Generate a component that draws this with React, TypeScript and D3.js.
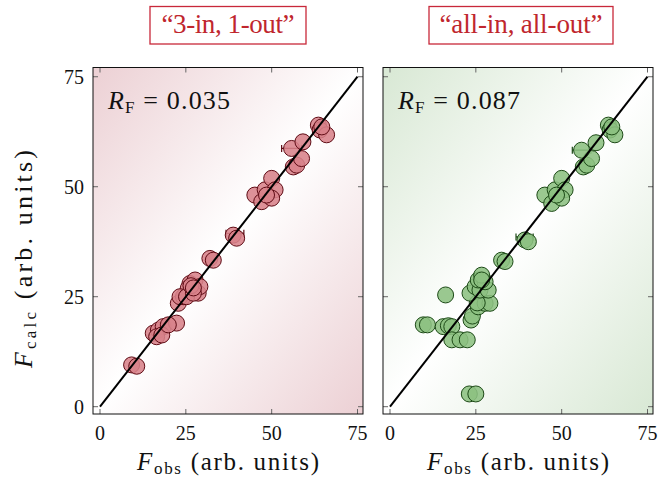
import React from "react";
import * as d3 from "d3";

// ---------- data ----------
const ticks = [0, 25, 50, 75];
const panelTitles = ["\u201c3-in, 1-out\u201d", "\u201call-in, all-out\u201d"];
const rfValues = ["0.035", "0.087"];

const leftObs = [9.2, 10.7, 15.5, 17, 18.4, 22.3, 16.5, 18, 19.9, 22.8, 24.3, 26.2, 27.7, 25.7, 28.6, 29.1, 23.3, 25.2, 27.2, 26.5, 27.2, 32, 33, 38.8, 39.8, 45.1, 47.1, 48.1, 50, 51, 50, 48.5, 56.3, 57.3, 58.7, 55.8, 59.1, 63.6, 64.1, 66, 64.6];
const leftCalc = [9.5, 9.2, 16.7, 17.4, 18.2, 19, 15.9, 16.3, 18.6, 23.5, 25, 28, 28.8, 26.9, 25.8, 27.3, 25, 25, 25.8, 27.5, 27, 33.7, 33.3, 39, 38.3, 48.1, 46.6, 49.3, 51.9, 49.3, 47.4, 48.1, 54.5, 54.9, 56.4, 58.7, 60.2, 64, 62.9, 61.8, 63.6];

const rightObs = [23.1, 25, 9.7, 10.9, 16.2, 15.5, 17, 18, 18, 20.4, 22.5, 23.6, 24, 25.7, 27.7, 29.1, 25.4, 23.3, 24.8, 26.2, 28.6, 25.7, 27.7, 26.7, 26.7, 32.5, 33.5, 39.3, 40.3, 45.1, 47.1, 48.1, 50, 51, 50, 48.5, 56.3, 57.3, 58.7, 55.8, 60, 63.6, 64.1, 65.5, 64.6];
const rightCalc = [2.9, 2.9, 18.6, 18.6, 25.4, 18.2, 18.4, 18.2, 15.2, 15.2, 15.2, 19.7, 20.6, 22.7, 23.5, 23.5, 23.6, 25.8, 27.3, 26.5, 26.5, 28.8, 28.4, 29.9, 28.8, 33.3, 33, 37.9, 37.5, 48.1, 46.2, 49.3, 51.9, 49.3, 47.4, 48.1, 54.5, 54.9, 56.4, 58.3, 60, 64, 62.9, 61.8, 63.6];

// visible error bars (obs, calc, sigma)
const leftErrObs = [55.8, 39.3];
const leftErrCalc = [58.7, 39.4];
const leftErrSigma = [2.9, 2.6];
const rightErrObs = [55.8, 39.2];
const rightErrCalc = [58.3, 38.6];
const rightErrSigma = [2.7, 2.5];

const xDomain = [-2.04, 76.6];
const yDomain = [-1.66, 77.1];

const FONT = "Liberation Serif";

type PanelProps = {
  x0: number;
  obs: number[];
  calc: number[];
  eObs: number[];
  eCalc: number[];
  eSig: number[];
  bg: string;
  fill: string;
  stroke: string;
  rf: string;
  id: string;
  title: string;
  titleX0: number;
  titleX1: number;
  titleLen: number;
};

const TOP = 67.5;
const BOTTOM = 414;
const WIDTH = 270;

function Panel(p: PanelProps) {
  const x = d3.scaleLinear().domain(xDomain).range([p.x0, p.x0 + WIDTH]);
  const y = d3.scaleLinear().domain(yDomain).range([BOTTOM, TOP]);
  const line = d3.line<number>().x((d) => x(d)).y((d) => y(d));
  const tl = 5;
  return (
    <g>
      <defs>
        <linearGradient id={p.id} x1="0" y1="0" x2="1" y2="1">
          <stop offset="0" stopColor={p.bg} />
          <stop offset="0.5" stopColor="#ffffff" />
          <stop offset="1" stopColor={p.bg} />
        </linearGradient>
        <clipPath id={p.id + "c"}>
          <rect x={p.x0} y={TOP} width={WIDTH} height={BOTTOM - TOP} />
        </clipPath>
      </defs>
      <rect x={p.x0} y={TOP} width={WIDTH} height={BOTTOM - TOP} fill={`url(#${p.id})`} />
      {ticks.map((t) => (
        <g key={"t" + t} stroke="#666" strokeWidth={1}>
          <line x1={x(t)} x2={x(t)} y1={BOTTOM} y2={BOTTOM - tl} />
          <line x1={x(t)} x2={x(t)} y1={TOP} y2={TOP + tl} />
          <line x1={p.x0} x2={p.x0 + tl} y1={y(t)} y2={y(t)} />
          <line x1={p.x0 + WIDTH} x2={p.x0 + WIDTH - tl} y1={y(t)} y2={y(t)} />
        </g>
      ))}
      <g clipPath={`url(#${p.id}c)`}>
        {p.eObs.map((o, i) => (
          <g key={"e" + i} stroke={p.stroke} strokeWidth={1.2}>
            <line x1={x(o - p.eSig[i])} x2={x(o + p.eSig[i])} y1={y(p.eCalc[i])} y2={y(p.eCalc[i])} />
            <line x1={x(o - p.eSig[i])} x2={x(o - p.eSig[i])} y1={y(p.eCalc[i]) - 3.5} y2={y(p.eCalc[i]) + 3.5} />
            <line x1={x(o + p.eSig[i])} x2={x(o + p.eSig[i])} y1={y(p.eCalc[i]) - 3.5} y2={y(p.eCalc[i]) + 3.5} />
          </g>
        ))}
        {p.obs.map((o, i) => (
          <circle key={"p" + i} cx={x(o)} cy={y(p.calc[i])} r={8} fill={p.fill} fillOpacity={0.88} stroke={p.stroke} strokeWidth={1} />
        ))}
        <path d={line([0, 75]) || ""} stroke="#000" strokeWidth={2} fill="none" />
      </g>
      <rect x={p.x0} y={TOP} width={WIDTH} height={BOTTOM - TOP} fill="none" stroke="#111" strokeWidth={1} />
      <text x={p.x0 + 15} y={109} style={{ fontFamily: FONT }} fontSize={26} fill="#111" textLength={122} lengthAdjust="spacing">
        <tspan fontStyle="italic">R</tspan>
        <tspan fontSize={17} dy={4}>F</tspan>
        <tspan dy={-4}>{" = " + p.rf}</tspan>
      </text>
      {ticks.map((t) => (
        <text key={"xl" + t} x={x(t)} y={440} textAnchor="middle" style={{ fontFamily: FONT }} fontSize={20} fill="#111">
          {t}
        </text>
      ))}
      <text x={p.x0 + WIDTH / 2 - 91} y={470} style={{ fontFamily: FONT }} fontSize={25} fill="#111" textLength={182} lengthAdjust="spacing">
        <tspan fontStyle="italic">F</tspan>
        <tspan fontSize={17} dy={4}>obs</tspan>
        <tspan dy={-4}> (arb. units)</tspan>
      </text>
      <rect x={p.titleX0} y={6.5} width={p.titleX1 - p.titleX0} height={37.5} fill="#fff" stroke="#c8283a" strokeWidth={1.3} />
      <text x={(p.titleX0 + p.titleX1) / 2 - p.titleLen / 2} y={32.5} style={{ fontFamily: FONT }} fontSize={27} fill="#c0262d" textLength={p.titleLen} lengthAdjust="spacing">
        {p.title}
      </text>
    </g>
  );
}

export default function App() {
  const y = d3.scaleLinear().domain(yDomain).range([BOTTOM, TOP]);
  return (
    <svg width={660} height={487} style={{ display: "block", position: "absolute", left: 0, top: 0, background: "#fff" }}>
      <Panel
        x0={93}
        obs={leftObs}
        calc={leftCalc}
        eObs={leftErrObs}
        eCalc={leftErrCalc}
        eSig={leftErrSigma}
        bg="#ecd0d4"
        fill="#d8828a"
        stroke="#5e0b14"
        rf={rfValues[0]}
        id="gl"
        title={panelTitles[0]}
        titleX0={150}
        titleX1={306}
        titleLen={133}
      />
      <Panel
        x0={383}
        obs={rightObs}
        calc={rightCalc}
        eObs={rightErrObs}
        eCalc={rightErrCalc}
        eSig={rightErrSigma}
        bg="#d8e8d4"
        fill="#8cc081"
        stroke="#1d4a17"
        rf={rfValues[1]}
        id="gr"
        title={panelTitles[1]}
        titleX0={429}
        titleX1={613}
        titleLen={163}
      />
      {ticks.map((t) => (
        <text key={"yl" + t} x={84} y={y(t) + 7} textAnchor="end" style={{ fontFamily: FONT }} fontSize={20} fill="#111">
          {t}
        </text>
      ))}
      <text transform="translate(32,368) rotate(-90)" style={{ fontFamily: FONT }} fontSize={26} fill="#111" textLength={218} lengthAdjust="spacing">
        <tspan fontStyle="italic">F</tspan>
        <tspan fontSize={17} dy={4}>calc</tspan>
        <tspan dy={-4}> (arb. units)</tspan>
      </text>
    </svg>
  );
}
